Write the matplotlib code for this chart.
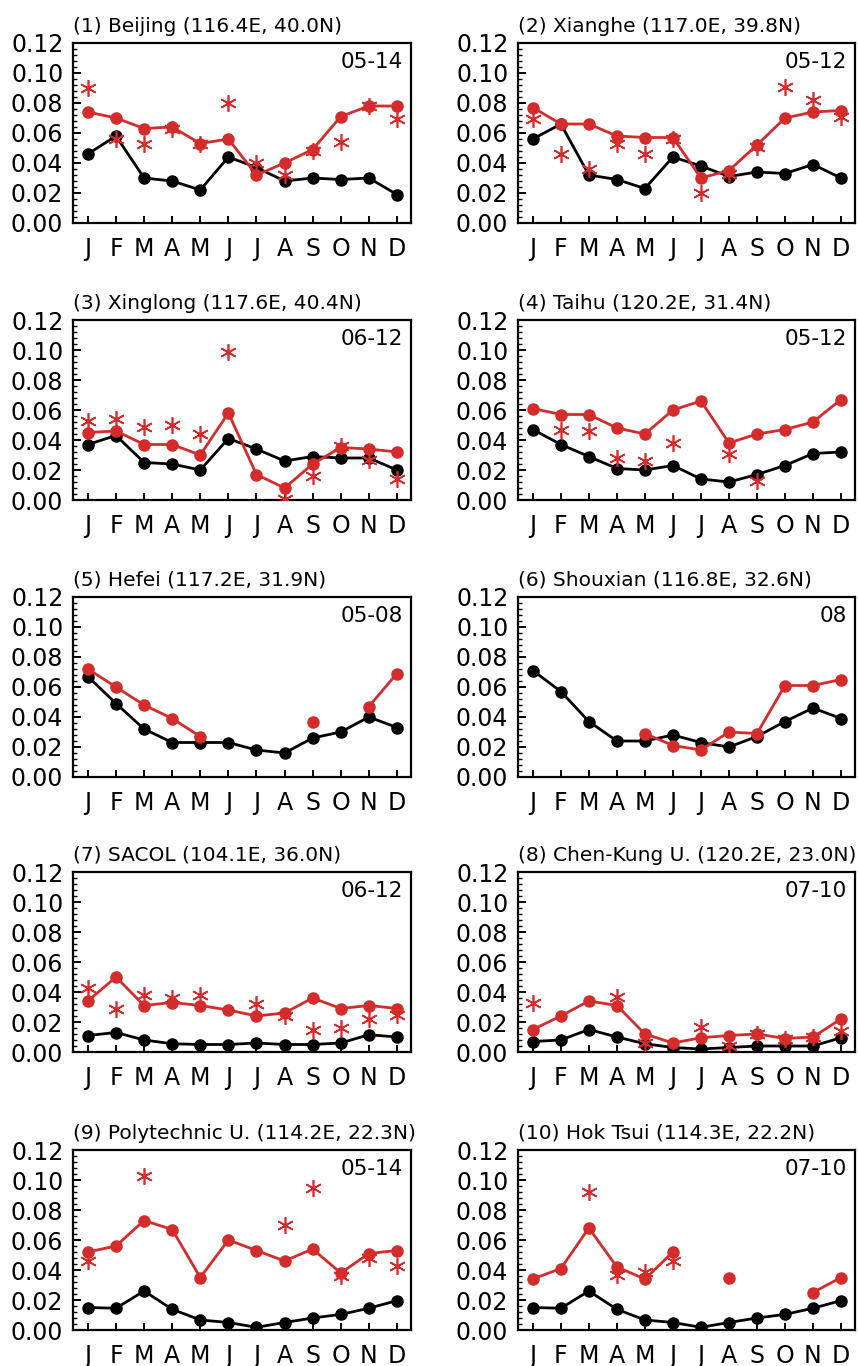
import numpy as np
import matplotlib
matplotlib.use('Agg')
import matplotlib.pyplot as plt
from matplotlib.ticker import MultipleLocator

nan = np.nan

# Month axis
months = ['J', 'F', 'M', 'A', 'M', 'J', 'J', 'A', 'S', 'O', 'N', 'D']

titles = ['(1) Beijing (116.4E, 40.0N)', '(2) Xianghe (117.0E, 39.8N)',
          '(3) Xinglong (117.6E, 40.4N)', '(4) Taihu (120.2E, 31.4N)',
          '(5) Hefei (117.2E, 31.9N)', '(6) Shouxian (116.8E, 32.6N)',
          '(7) SACOL (104.1E, 36.0N)', '(8) Chen-Kung U. (120.2E, 23.0N)',
          '(9) Polytechnic U. (114.2E, 22.3N)', '(10) Hok Tsui (114.3E, 22.2N)']
periods = ['05-14', '05-12', '06-12', '05-12', '05-08', '08', '06-12', '07-10', '05-14', '07-10']

# black line (model), red line (obs), red asterisks
beijing_black = [0.046, 0.058, 0.030, 0.028, 0.022, 0.044, 0.037, 0.028, 0.030, 0.029, 0.030, 0.019]
beijing_red = [0.074, 0.070, 0.063, 0.064, 0.053, 0.056, 0.032, 0.040, 0.049, 0.071, 0.078, 0.078]
beijing_star = [0.090, 0.056, 0.053, 0.063, 0.053, 0.080, 0.040, 0.032, 0.048, 0.054, 0.078, 0.069]

xianghe_black = [0.056, 0.066, 0.032, 0.029, 0.023, 0.044, 0.038, 0.031, 0.034, 0.033, 0.039, 0.030]
xianghe_red = [0.077, 0.066, 0.066, 0.058, 0.057, 0.057, 0.030, 0.035, 0.052, 0.070, 0.074, 0.075]
xianghe_star = [0.069, 0.046, 0.036, 0.053, 0.046, 0.056, 0.020, 0.033, 0.051, 0.091, 0.082, 0.071]

xinglong_black = [0.037, 0.043, 0.025, 0.024, 0.020, 0.041, 0.034, 0.026, 0.029, 0.028, 0.028, 0.020]
xinglong_red = [0.045, 0.046, 0.037, 0.037, 0.030, 0.058, 0.017, 0.008, 0.024, 0.035, 0.034, 0.032]
xinglong_star = [0.053, 0.054, 0.049, 0.050, 0.044, 0.099, nan, 0.001, 0.016, 0.036, 0.027, 0.014]

taihu_black = [0.047, 0.037, 0.029, 0.021, 0.020, 0.023, 0.014, 0.012, 0.017, 0.023, 0.031, 0.032]
taihu_red = [0.061, 0.057, 0.057, 0.048, 0.044, 0.060, 0.066, 0.038, 0.044, 0.047, 0.052, 0.067]
taihu_star = [nan, 0.047, 0.046, 0.028, 0.026, 0.038, nan, 0.031, 0.013, nan, nan, nan]

hefei_black = [0.067, 0.049, 0.032, 0.023, 0.023, 0.023, 0.018, 0.016, 0.026, 0.030, 0.040, 0.033]
hefei_red = [0.072, 0.060, 0.048, 0.039, 0.027, nan, nan, nan, 0.037, nan, 0.047, 0.069]
hefei_star = [nan] * 12

shouxian_black = [0.071, 0.057, 0.037, 0.024, 0.024, 0.028, 0.023, 0.020, 0.027, 0.037, 0.046, 0.039]
shouxian_red = [nan, nan, nan, nan, 0.029, 0.021, 0.018, 0.030, 0.029, 0.061, 0.061, 0.065]
shouxian_star = [nan] * 12

sacol_black = [0.011, 0.013, 0.008, 0.0055, 0.005, 0.005, 0.006, 0.005, 0.005, 0.006, 0.0115, 0.010]
sacol_red = [0.034, 0.050, 0.031, 0.033, 0.031, 0.028, 0.024, 0.026, 0.036, 0.029, 0.031, 0.029]
sacol_star = [0.043, 0.029, 0.038, 0.036, 0.038, nan, 0.032, 0.024, 0.015, 0.016, 0.022, 0.025]

chenkung_black = [0.007, 0.008, 0.015, 0.010, 0.0055, 0.003, 0.002, 0.003, 0.004, 0.004, 0.004, 0.0095]
chenkung_red = [0.015, 0.024, 0.034, 0.031, 0.012, 0.006, 0.0095, 0.011, 0.012, 0.009, 0.010, 0.022]
chenkung_star = [0.033, nan, nan, 0.037, 0.006, nan, 0.017, 0.004, 0.012, 0.009, 0.010, 0.014]

polyu_black = [0.015, 0.0145, 0.026, 0.0138, 0.0067, 0.005, 0.0018, 0.005, 0.008, 0.0104, 0.0145, 0.0196]
polyu_red = [0.052, 0.056, 0.073, 0.067, 0.035, 0.060, 0.053, 0.046, 0.054, 0.038, 0.051, 0.053]
polyu_star = [0.046, nan, 0.103, nan, nan, nan, nan, 0.070, 0.095, 0.036, 0.048, 0.043]

hoktsui_black = [0.015, 0.0145, 0.026, 0.0138, 0.0067, 0.005, 0.0018, 0.005, 0.008, 0.0104, 0.0145, 0.0196]
hoktsui_red = [0.034, 0.041, 0.068, 0.042, 0.034, 0.052, nan, 0.035, nan, nan, 0.025, 0.035]
hoktsui_star = [nan, nan, 0.092, 0.037, 0.039, 0.046, nan, nan, nan, nan, nan, nan]

blacks = [beijing_black, xianghe_black, xinglong_black, taihu_black, hefei_black,
          shouxian_black, sacol_black, chenkung_black, polyu_black, hoktsui_black]
reds = [beijing_red, xianghe_red, xinglong_red, taihu_red, hefei_red,
        shouxian_red, sacol_red, chenkung_red, polyu_red, hoktsui_red]
stars = [beijing_star, xianghe_star, xinglong_star, taihu_star, hefei_star,
         shouxian_star, sacol_star, chenkung_star, polyu_star, hoktsui_star]

RED = '#d42b2b'
W, H = 858, 1366

plt.rcParams['font.family'] = ['DejaVu Sans']

fig = plt.figure(figsize=(W / 100, H / 100), dpi=100)

col_left = [73, 518]
col_width = [338, 337]
row_top = [43, 320, 597, 872, 1150]
ax_h = 180

x = np.arange(1, 13)
star_marker = (6, 2, 0)

for i in range(10):
    r, c = divmod(i, 2)
    left = col_left[c] / W
    bottom = 1 - (row_top[r] + ax_h) / H
    ax = fig.add_axes([left, bottom, col_width[c] / W, ax_h / H])

    ax.plot(x, blacks[i], color='black', lw=2.0, marker='o', ms=8, zorder=3)
    ax.plot(x, reds[i], color=RED, lw=2.0, marker='o', ms=8, zorder=4)
    ax.plot(x, stars[i], ls='none', color=RED, marker=star_marker, ms=12,
            mew=1.2, zorder=5)

    ax.set_xlim(0.47, 12.5)
    ax.set_ylim(0, 0.12)
    ax.set_xticks(x)
    ax.set_xticklabels(months)
    ax.yaxis.set_minor_locator(MultipleLocator(0.004))
    ax.set_yticks(np.arange(0, 0.121, 0.02))
    ax.set_yticklabels([f'{v:.2f}' for v in np.arange(0, 0.121, 0.02)])
    ax.tick_params(axis='x', direction='in', length=5, width=1.4, labelsize=17, pad=10)
    ax.tick_params(axis='y', which='major', direction='in', length=6, width=1.4,
                   labelsize=17, pad=7)
    ax.tick_params(axis='y', which='minor', direction='in', length=3, width=1.0)
    for sp in ax.spines.values():
        sp.set_linewidth(1.6)

    ax.set_title(titles[i], loc='left', fontsize=14.5, pad=8)
    ax.text(0.975, 0.95, periods[i], transform=ax.transAxes, ha='right', va='top',
            fontsize=15.5)

fig.savefig('out.png', dpi=100)
